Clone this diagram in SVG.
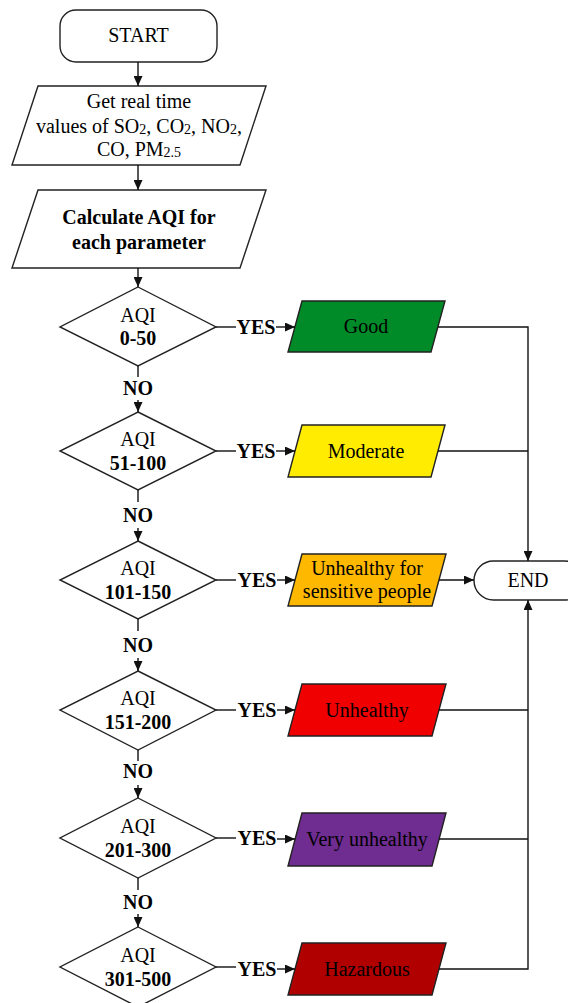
<svg xmlns="http://www.w3.org/2000/svg" width="568" height="1003" viewBox="0 0 568 1003">
<defs>
<marker id="ah" markerUnits="userSpaceOnUse" markerWidth="11" markerHeight="9" refX="10" refY="4.5" orient="auto">
<path d="M0,0 L10,4.5 L0,9 Z" fill="#111"/>
</marker>
<style>
.s{stroke:#222;stroke-width:1.4;fill:#fff}
.c{stroke:#111;stroke-width:1.4;fill:none}
.t{font-family:"Liberation Serif","Times New Roman",serif;font-size:20px;fill:#000;text-anchor:middle}
.b{font-weight:bold}
.sub{font-size:14px}
</style>
</defs>
<rect width="568" height="1003" fill="#fff"/>

<g id="start">
<rect class="s" x="60" y="10" width="157" height="52" rx="16"/>
<text class="t" x="138.5" y="42">START</text>
</g>

<g id="input">
<polygon class="s" points="38,86 266,86 240,165 12,165"/>
<text class="t" x="139" y="108">Get real time</text>
<text class="t" x="139" y="133">values of SO<tspan class="sub" dy="1">2</tspan><tspan dy="-1">, CO</tspan><tspan class="sub" dy="1">2</tspan><tspan dy="-1">, NO</tspan><tspan class="sub" dy="1">2</tspan><tspan dy="-1">,</tspan></text>
<text class="t" x="139" y="156">CO, PM<tspan class="sub" dy="1">2.5</tspan></text>
</g>

<g id="calc">
<polygon class="s" points="38,190 266,190 240,268 12,268"/>
<text class="t b" x="139" y="224">Calculate AQI for</text>
<text class="t b" x="139" y="249">each parameter</text>
</g>

<g id="d1"><polygon class="s" points="138,287 216,327 138,366 60,327"/><text class="t" x="138" y="322">AQI</text><text class="t b" x="138" y="345">0-50</text></g>
<g id="d2"><polygon class="s" points="138,412 216,451 138,490 60,451"/><text class="t" x="138" y="446">AQI</text><text class="t b" x="138" y="470">51-100</text></g>
<g id="d3"><polygon class="s" points="138,541 216,580 138,619 60,580"/><text class="t" x="138" y="575">AQI</text><text class="t b" x="138" y="599">101-150</text></g>
<g id="d4"><polygon class="s" points="138,671 216,710 138,750 60,710"/><text class="t" x="138" y="705">AQI</text><text class="t b" x="138" y="729">151-200</text></g>
<g id="d5"><polygon class="s" points="138,798 216,838 138,878 60,838"/><text class="t" x="138" y="833">AQI</text><text class="t b" x="138" y="857">201-300</text></g>
<g id="d6"><polygon class="s" points="138,927 216,967 138,1007 60,967"/><text class="t" x="138" y="962">AQI</text><text class="t b" x="138" y="986">301-500</text></g>

<g id="good"><polygon class="s" style="fill:#018a28" points="302,301 445,301 431,352 288,352"/><text class="t" x="366" y="333">Good</text></g>
<g id="moderate"><polygon class="s" style="fill:#ffec00" points="302,425 445,425 431,477 288,477"/><text class="t" x="366" y="458">Moderate</text></g>
<g id="sensitive"><polygon class="s" style="fill:#ffb800" points="302,554 446,554 432,606 288,606"/><text class="t" x="367" y="575">Unhealthy for</text><text class="t" x="367" y="598">sensitive people</text></g>
<g id="unhealthy"><polygon class="s" style="fill:#f00000" points="302,684 446,684 432,736 288,736"/><text class="t" x="367" y="717">Unhealthy</text></g>
<g id="veryunhealthy"><polygon class="s" style="fill:#6f2c91" points="302,813 446,813 432,866 288,866"/><text class="t" x="367" y="846">Very unhealthy</text></g>
<g id="hazardous"><polygon class="s" style="fill:#b00000" points="302,943 446,943 432,995 288,995"/><text class="t" x="367" y="976">Hazardous</text></g>

<g id="end">
<rect class="s" x="474" y="561" width="110" height="39" rx="19.5"/>
<text class="t" x="528" y="587">END</text>
</g>

<g id="connectors">
<line class="c" x1="138" y1="62" x2="138" y2="86" marker-end="url(#ah)"/>
<line class="c" x1="138" y1="165" x2="138" y2="190" marker-end="url(#ah)"/>
<line class="c" x1="138" y1="268" x2="138" y2="287" marker-end="url(#ah)"/>

<line class="c" x1="138" y1="366" x2="138" y2="377"/>
<text class="t b" x="138" y="395">NO</text>
<line class="c" x1="138" y1="400" x2="138" y2="412" marker-end="url(#ah)"/>
<line class="c" x1="138" y1="490" x2="138" y2="502"/>
<text class="t b" x="138" y="522">NO</text>
<line class="c" x1="138" y1="528" x2="138" y2="541" marker-end="url(#ah)"/>
<line class="c" x1="138" y1="619" x2="138" y2="631"/>
<text class="t b" x="138" y="652">NO</text>
<line class="c" x1="138" y1="658" x2="138" y2="671" marker-end="url(#ah)"/>
<line class="c" x1="138" y1="750" x2="138" y2="761"/>
<text class="t b" x="138" y="778">NO</text>
<line class="c" x1="138" y1="785" x2="138" y2="798" marker-end="url(#ah)"/>
<line class="c" x1="138" y1="878" x2="138" y2="890"/>
<text class="t b" x="138" y="909">NO</text>
<line class="c" x1="138" y1="914" x2="138" y2="927" marker-end="url(#ah)"/>

<line class="c" x1="216" y1="327" x2="236" y2="327"/><text class="t b" x="256" y="334">YES</text><line class="c" x1="276" y1="327" x2="295" y2="327" marker-end="url(#ah)"/>
<line class="c" x1="216" y1="451" x2="236" y2="451"/><text class="t b" x="256" y="458">YES</text><line class="c" x1="276" y1="451" x2="295" y2="451" marker-end="url(#ah)"/>
<line class="c" x1="216" y1="580" x2="236" y2="580"/><text class="t b" x="257" y="587">YES</text><line class="c" x1="277" y1="580" x2="295" y2="580" marker-end="url(#ah)"/>
<line class="c" x1="216" y1="710" x2="236" y2="710"/><text class="t b" x="257" y="717">YES</text><line class="c" x1="277" y1="710" x2="295" y2="710" marker-end="url(#ah)"/>
<line class="c" x1="216" y1="838" x2="236" y2="838"/><text class="t b" x="257" y="845">YES</text><line class="c" x1="277" y1="839" x2="295" y2="839" marker-end="url(#ah)"/>
<line class="c" x1="216" y1="967" x2="236" y2="967"/><text class="t b" x="257" y="976">YES</text><line class="c" x1="277" y1="969" x2="295" y2="969" marker-end="url(#ah)"/>

<polyline class="c" points="438,327 528,327 528,561" marker-end="url(#ah)"/>
<line class="c" x1="438" y1="451" x2="528" y2="451"/>
<line class="c" x1="439" y1="580" x2="474" y2="580" marker-end="url(#ah)"/>
<polyline class="c" points="439,969 528,969 528,600" marker-end="url(#ah)"/>
<line class="c" x1="439" y1="710" x2="528" y2="710"/>
<line class="c" x1="439" y1="839" x2="528" y2="839"/>
</g>
</svg>
